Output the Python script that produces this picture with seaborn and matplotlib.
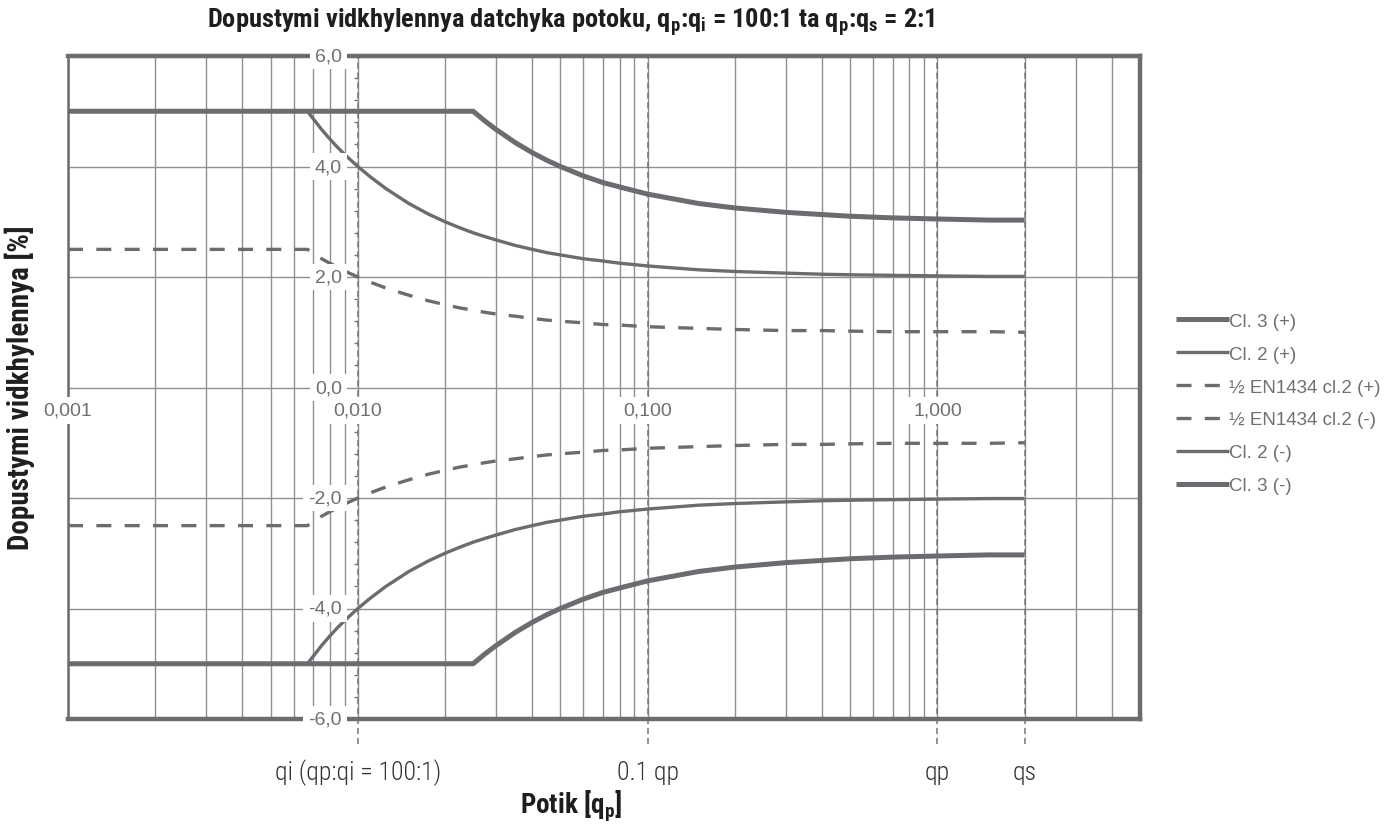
import numpy as np
import pandas as pd
import matplotlib
matplotlib.use("Agg")
import matplotlib.pyplot as plt
import seaborn as sns
from matplotlib.ticker import LogLocator, MultipleLocator, NullFormatter, NullLocator

# ---------------- data ----------------
q = [0.001, 0.002, 0.004, 0.0067, 0.0075, 0.008, 0.0085, 0.009, 0.01, 0.011,
     0.0125, 0.015, 0.0175, 0.02, 0.0225, 0.025, 0.0275, 0.03, 0.035, 0.04,
     0.045, 0.05, 0.06, 0.07, 0.08, 0.1, 0.15, 0.2, 0.3, 0.4,
     0.5, 0.7, 1.0, 1.5, 2.0]

cl3_plus = [5.0, 5.0, 5.0, 5.0, 5.0, 5.0, 5.0, 5.0, 5.0, 5.0,
            5.0, 5.0, 5.0, 5.0, 5.0, 5.0, 4.82, 4.67, 4.43, 4.25,
            4.11, 4.0, 3.83, 3.71, 3.63, 3.5, 3.33, 3.25, 3.17, 3.13,
            3.1, 3.07, 3.05, 3.03, 3.03]
cl2_plus = [5.0, 5.0, 5.0, 5.0, 4.67, 4.5, 4.35, 4.22, 4.0, 3.82,
            3.6, 3.33, 3.14, 3.0, 2.89, 2.8, 2.73, 2.67, 2.57, 2.5,
            2.44, 2.4, 2.33, 2.29, 2.25, 2.2, 2.13, 2.1, 2.07, 2.05,
            2.04, 2.03, 2.02, 2.01, 2.01]
en_plus = [2.5, 2.5, 2.5, 2.5, 2.33, 2.25, 2.18, 2.11, 2.0, 1.91,
           1.8, 1.67, 1.57, 1.5, 1.44, 1.4, 1.36, 1.33, 1.29, 1.25,
           1.22, 1.2, 1.17, 1.14, 1.13, 1.1, 1.07, 1.05, 1.03, 1.03,
           1.02, 1.01, 1.01, 1.01, 1.0]
en_minus = [-2.5, -2.5, -2.5, -2.5, -2.33, -2.25, -2.18, -2.11, -2.0, -1.91,
            -1.8, -1.67, -1.57, -1.5, -1.44, -1.4, -1.36, -1.33, -1.29, -1.25,
            -1.22, -1.2, -1.17, -1.14, -1.13, -1.1, -1.07, -1.05, -1.03, -1.03,
            -1.02, -1.01, -1.01, -1.01, -1.0]
cl2_minus = [-5.0, -5.0, -5.0, -5.0, -4.67, -4.5, -4.35, -4.22, -4.0, -3.82,
             -3.6, -3.33, -3.14, -3.0, -2.89, -2.8, -2.73, -2.67, -2.57, -2.5,
             -2.44, -2.4, -2.33, -2.29, -2.25, -2.2, -2.13, -2.1, -2.07, -2.05,
             -2.04, -2.03, -2.02, -2.01, -2.01]
cl3_minus = [-5.0, -5.0, -5.0, -5.0, -5.0, -5.0, -5.0, -5.0, -5.0, -5.0,
             -5.0, -5.0, -5.0, -5.0, -5.0, -5.0, -4.82, -4.67, -4.43, -4.25,
             -4.11, -4.0, -3.83, -3.71, -3.63, -3.5, -3.33, -3.25, -3.17, -3.13,
             -3.1, -3.07, -3.05, -3.03, -3.03]

series_names = ["Cl. 3 (+)", "Cl. 2 (+)", "½ EN1434 cl.2 (+)",
                "½ EN1434 cl.2 (-)", "Cl. 2 (-)", "Cl. 3 (-)"]
series_values = [cl3_plus, cl2_plus, en_plus, en_minus, cl2_minus, cl3_minus]

y_ticks = [-6.0, -4.0, -2.0, 0.0, 2.0, 4.0, 6.0]
y_tick_labels = ["-6,0", "-4,0", "-2,0", "0,0", "2,0", "4,0", "6,0"]
x_ticks = [0.001, 0.01, 0.1, 1.0]
x_tick_labels = ["0,001", "0,010", "0,100", "1,000"]
ref_q = [0.01, 0.1, 1.0, 2.0]
ref_labels = ["qi (qp:qi = 100:1)", "0.1 qp", "qp", "qs"]

df = pd.DataFrame({
    "q": np.tile(q, len(series_names)),
    "err": np.concatenate(series_values),
    "series": np.repeat(series_names, len(q)),
})

# ---------------- style ----------------
sns.set_theme(style="white")
plt.rcParams["font.family"] = ["Liberation Sans", "DejaVu Sans"]
plt.rcParams["mathtext.fontset"] = "custom"
plt.rcParams["mathtext.rm"] = "Roboto Condensed"
plt.rcParams["mathtext.bf"] = "Roboto Condensed:bold"

COND = ["Roboto Condensed", "Roboto", "DejaVu Sans"]
LINE = "#6b6b70"
GRID = "#8f8f8f"
TXT = "#707070"

widths = {"Cl. 3 (+)": 3.6, "Cl. 2 (+)": 2.4, "½ EN1434 cl.2 (+)": 2.4,
          "½ EN1434 cl.2 (-)": 2.4, "Cl. 2 (-)": 2.4, "Cl. 3 (-)": 3.6}
dashes = {"Cl. 3 (+)": "", "Cl. 2 (+)": "", "½ EN1434 cl.2 (+)": (4.5, 4),
          "½ EN1434 cl.2 (-)": (4.5, 4), "Cl. 2 (-)": "", "Cl. 3 (-)": ""}

fig = plt.figure(figsize=(13.95, 8.37), dpi=100)
W, H = 1395, 837
ax = fig.add_axes([68 / W, 1 - 720 / H, (1140 - 68) / W, (720 - 57) / H])

for name in series_names:
    sub = df[df["series"] == name]
    sns.lineplot(data=sub, x="q", y="err", ax=ax, color=LINE,
                 linewidth=widths[name], dashes=False, estimator=None,
                 sort=True, label=name, zorder=3, solid_capstyle="butt")
    if dashes[name]:
        ax.lines[-1].set_dashes(dashes[name])

ax.set_xscale("log")
ax.set_xlim(0.001, 5)
ax.set_ylim(-6, 6)
ax.set_xlabel("")
ax.set_ylabel("")

ax.xaxis.set_major_locator(LogLocator(base=10))
ax.xaxis.set_minor_locator(LogLocator(base=10, subs=np.arange(2, 10)))
ax.xaxis.set_minor_formatter(NullFormatter())
ax.yaxis.set_major_locator(MultipleLocator(2))
ax.yaxis.set_minor_locator(NullLocator())
ax.set_axisbelow(True)
ax.grid(True, which="both", axis="x", color=GRID, linewidth=1.0)
ax.grid(True, which="major", axis="y", color=GRID, linewidth=1.0)
ax.tick_params(which="both", length=0, labelleft=False, labelbottom=False)

for side, lw in [("left", 1.8), ("right", 3.2), ("top", 3.2), ("bottom", 3.2)]:
    ax.spines[side].set_visible(True)
    ax.spines[side].set_color(LINE)
    ax.spines[side].set_linewidth(lw)

# dashed reference lines (qi, 0.1 qp, qp, qs) extending below the frame
for rq in ref_q:
    ax.axvline(rq, ymin=-0.038, ymax=1, color="#777777", linewidth=1.1,
               linestyle=(0, (4, 2.5)), clip_on=False, zorder=1.5)

# small ticks on the qi axis
minor_y = [v for v in np.arange(-5.6, 5.61, 0.4) if abs(round(v / 2) * 2 - v) > 1e-6]
ax.plot([0.01] * len(minor_y), minor_y, linestyle="none", marker=0,
        markersize=3, markeredgewidth=1.0, color="#777777", zorder=2)

box = dict(boxstyle="square,pad=0.25", fc="white", ec="none")
for v, lbl in zip(y_ticks, y_tick_labels):
    ax.annotate(lbl, xy=(0.01, v), xytext=(-16, 0), textcoords="offset pixels",
                ha="right", va="center", fontsize=14, color=TXT,
                bbox=box, zorder=5, annotation_clip=False)
for v, lbl in zip(x_ticks, x_tick_labels):
    ax.annotate(lbl, xy=(v, 0), xytext=(0, -23), textcoords="offset pixels",
                ha="center", va="center", fontsize=14, color=TXT,
                bbox=box, zorder=5, annotation_clip=False)

trans = ax.get_xaxis_transform()
for v, lbl in zip(ref_q, ref_labels):
    ax.text(v, (720 - 773) / (720 - 57), lbl, transform=trans, ha="center",
            va="center", fontsize=18.5, color="#333333", fontweight="light",
            family=COND)

leg = ax.legend(loc="center left", bbox_to_anchor=(1176 / W, 1 - 404.5 / H),
                bbox_transform=fig.transFigure, frameon=False, fontsize=13.5,
                handlelength=2.8, handletextpad=0.05, labelspacing=0.84,
                borderpad=0, borderaxespad=0)
for t in leg.get_texts():
    t.set_color(TXT)

fig.text(571 / W, 1 - 22 / H,
         r"Dopustymi vidkhylennya datchyka potoku, q$_\mathbf{p}$:q$_\mathbf{i}$ = 100:1 ta q$_\mathbf{p}$:q$_\mathbf{s}$ = 2:1",
         ha="center", va="center", fontsize=19, fontweight="bold", color="#1e1e1e",
         family=COND)
fig.text(571 / W, 1 - 806 / H, r"Potik [q$_\mathbf{p}$]", ha="center", va="center",
         fontsize=19.5, fontweight="bold", color="#1e1e1e", family=COND)
fig.text(20 / W, 1 - 388 / H, "Dopustymi vidkhylennya [%]", ha="center",
         va="center", rotation=90, fontsize=21, fontweight="bold",
         color="#1e1e1e", family=COND)

fig.savefig("out.png", dpi=100, facecolor="white")
